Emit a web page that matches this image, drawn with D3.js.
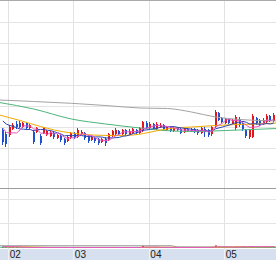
<!DOCTYPE html>
<html><head><meta charset="utf-8">
<script src="https://cdn.jsdelivr.net/npm/d3@7"></script>
<style>html,body{margin:0;padding:0;background:#fff;overflow:hidden}svg{display:block}</style>
</head><body>
<svg id="chart" width="276" height="260"></svg>
<script>
// ---- data ----
const monthLabels = ["02","03","04","05"];
const monthStartIdx = [2,21,43,65];

const openP = [17.0,16.6,16.5,17.1,17.6,17.7,17.3,17.7,17.2,16.8,
16.8,16.4,16.7,16.5,16.4,16.7,16.2,16.4,16.1,15.9,
16.2,16.7,16.3,16.6,16.7,16.4,16.0,16.2,16.1,15.8,
16.1,16.0,16.4,16.6,16.9,16.6,17.0,16.6,16.7,17.0,
16.7,16.9,17.7,17.2,17.6,17.1,17.3,17.5,17.0,17.3,
16.9,17.2,17.1,16.8,17.1,16.9,17.1,17.0,16.7,17.1,
17.0,16.6,17.3,18.7,18.2,17.7,18.1,17.7,17.2,18.1,
17.7,17.0,16.3,16.3,18.2,18.0,17.6,17.8,18.4,17.9];
const closeP = [15.8,15.6,17.3,17.5,17.3,17.3,17.7,17.2,17.5,15.8,
17.2,15.7,17.2,16.9,16.8,16.3,16.5,16.0,15.7,16.3,
16.7,16.3,17.0,16.8,16.2,15.9,16.3,15.9,15.7,16.1,
15.7,16.6,16.9,17.0,16.6,17.0,16.6,16.9,17.1,16.7,
17.2,17.8,17.2,17.6,17.2,17.6,17.5,17.1,17.3,16.9,
17.2,17.0,16.7,17.1,16.9,17.1,16.8,16.7,17.2,16.8,
16.5,17.3,18.8,18.0,17.8,18.1,17.7,18.0,18.3,17.5,
17.1,16.4,17.0,18.4,17.7,17.6,18.0,18.4,17.9,18.5];
const highP = [17.2,16.8,17.5,17.7,17.9,17.9,17.8,17.8,17.6,17.0,
17.3,16.6,17.3,17.0,16.9,16.8,16.6,16.5,16.2,16.4,
16.8,16.8,17.2,17.0,16.8,16.5,16.4,16.3,16.2,16.2,
16.3,16.7,17.0,17.2,17.0,17.1,17.1,17.1,17.2,17.1,
17.3,17.9,17.9,17.8,17.7,17.8,17.7,17.6,17.4,17.4,
17.3,17.3,17.2,17.2,17.2,17.2,17.2,17.1,17.3,17.3,
17.1,17.4,19.0,18.8,18.3,18.2,18.2,18.1,18.5,18.3,
17.9,17.1,17.1,18.6,18.3,18.1,18.2,18.6,18.5,18.7];
const lowP = [15.5,15.3,16.3,17.0,17.1,17.2,17.2,17.0,17.1,15.6,
16.7,15.5,16.6,16.4,16.3,16.1,16.1,15.8,15.5,15.8,
16.1,16.1,16.2,16.5,16.0,15.7,15.9,15.7,15.5,15.7,
15.4,15.9,16.3,16.5,16.5,16.5,16.4,16.5,16.6,16.6,
16.6,16.8,17.1,17.1,17.1,17.0,17.2,17.0,16.9,16.8,
16.8,16.9,16.6,16.7,16.8,16.8,16.7,16.5,16.6,16.3,
16.3,16.4,17.2,17.9,17.7,17.6,17.6,17.6,17.0,17.3,
16.9,16.2,16.1,16.2,17.5,17.4,17.5,17.7,17.8,17.8];
// closes of the days just before the visible window (for MA5 / MA10)
const preClose = [18.7,18.6,18.5,18.6,18.6,17.8,17.6,17.4,17.4];

// longer moving averages (index, value)
const ma20Idx = [-1,5,11,15,20,26,32,38,41,46,50,55,62,68,74,80];
const ma20Val = [18.5,17.95,17.35,17.0,16.7,16.5,16.45,16.5,16.65,17.0,17.2,17.3,17.45,17.55,17.6,17.7];
const ma60Idx = [-1,9,20,30,40,47,56,65,80];
const ma60Val = [19.75,19.1,18.1,17.6,17.2,16.95,16.85,16.95,17.15];
const ma120Idx = [-1,9,20,30,40,48,55,62,69,80];
const ma120Val = [20.0,19.85,19.67,19.45,19.2,19.15,18.8,18.3,18.05,17.9];

const vol = [14,16,12,11,10,6,5,6,5,7,
5,6,5,5,6,5,6,5,6,5,
5,6,5,5,6,6,5,5,6,5,
6,5,6,5,5,6,5,5,6,5,
6,22,7,6,6,7,6,6,5,6,
6,5,6,6,5,6,6,7,6,7,
6,7,26,9,8,9,8,9,14,12,
13,12,14,16,12,13,12,14,13,15];
const preVol = [10,11,12,10,9,11,12,13,12];
const volLongIdx = [-1,49,51,58,80];
const volLongVal = [24,24,11,10,10];
const volMidIdx = [-1,30,80];
const volMidVal = [8,7,7];

// ---- drawing ----
const W = 276, H = 260;
const svg = d3.select("#chart");
const n = openP.length;
const step = 3.43, x0 = 2.855;
const x = d3.scaleLinear().domain([0, n - 1]).range([x0, x0 + (n - 1) * step]);
const y = d3.scaleLinear().domain([15, 20]).range([150, 100]);
const yv = d3.scaleLinear().domain([0, 500]).range([248, 199]);

const mainTop = 1, mainBot = 188, volTop = 189, volBot = 249;
svg.append("rect").attr("width", W).attr("height", H).attr("fill", "#fff");

// clips
const defs = svg.append("defs");
defs.append("clipPath").attr("id", "cMain").append("rect").attr("x", 0).attr("y", mainTop).attr("width", W).attr("height", mainBot - mainTop);
defs.append("clipPath").attr("id", "cVol").append("rect").attr("x", 0).attr("y", volTop).attr("width", W).attr("height", volBot - volTop);

// horizontal grid (panel divisions)
const gridMain = d3.range(8).map(k => 22 + 21 * k);
const gridVol = [199, 223];
svg.append("g").selectAll("line").data(gridMain.concat(gridVol)).join("line")
  .attr("x1", 0).attr("x2", W).attr("y1", d => d + 0.5).attr("y2", d => d + 0.5)
  .attr("stroke", "#e4e4e4").attr("stroke-width", 1);

// vertical month grid
const bounds = monthStartIdx.map(i => Math.round(x(i - 0.5)) + 0.5);
svg.append("g").selectAll("line").data(bounds).join("line")
  .attr("x1", d => d).attr("x2", d => d).attr("y1", 1).attr("y2", H)
  .attr("stroke", "#e2e2e2").attr("stroke-width", 1);

// borders
svg.append("line").attr("x1", 0).attr("x2", W).attr("y1", 0.5).attr("y2", 0.5).attr("stroke", "#aaaaaa");
svg.append("line").attr("x1", 0).attr("x2", W).attr("y1", 188.5).attr("y2", 188.5).attr("stroke", "#9c9c9c");

// candles
const UP = "#e8141c", DOWN = "#1e50d2";
const candles = d3.range(n).map(i => ({i, o: openP[i], c: closeP[i], h: highP[i], l: lowP[i]}));
const gC = svg.append("g").attr("clip-path", "url(#cMain)");
gC.selectAll("line").data(candles).join("line")
  .attr("x1", d => Math.round(x(d.i)) - 0.5).attr("x2", d => Math.round(x(d.i)) - 0.5)
  .attr("y1", d => y(d.h)).attr("y2", d => y(d.l))
  .attr("stroke", d => d.c >= d.o ? UP : DOWN).attr("stroke-width", 1);
gC.selectAll("rect").data(candles).join("rect")
  .attr("x", d => Math.round(x(d.i)) - 1).attr("width", 2)
  .attr("y", d => y(Math.max(d.o, d.c)))
  .attr("height", d => Math.max(1, Math.abs(y(d.o) - y(d.c))))
  .attr("fill", d => d.c >= d.o ? UP : DOWN);

// moving averages
function sma(arr, pre, p) {
  const all = pre.concat(arr);
  return arr.map((_, i) => {
    const j = i + pre.length;
    if (j - p + 1 < 0) return null;
    return d3.mean(all.slice(j - p + 1, j + 1));
  });
}
const ma5 = sma(closeP, preClose, 5);
const ma10 = sma(closeP, preClose, 10);
const smooth = d3.line().x(d => x(d[0])).y(d => y(d[1])).curve(d3.curveMonotoneX);
const straight = d3.line().defined(d => d[1] != null).x(d => x(d[0])).y(d => y(d[1]));
const gL = svg.append("g").attr("clip-path", "url(#cMain)").attr("fill", "none").attr("stroke-width", 1);
gL.append("path").attr("d", smooth(ma120Idx.map((v, k) => [v, ma120Val[k]]))).attr("stroke", "#a3a3a3");
gL.append("path").attr("d", smooth(ma60Idx.map((v, k) => [v, ma60Val[k]]))).attr("stroke", "#4db57a");
gL.append("path").attr("d", smooth(ma20Idx.map((v, k) => [v, ma20Val[k]]))).attr("stroke", "#f2a900");
gL.append("path").attr("d", straight(ma10.map((v, i) => [i, v]))).attr("stroke", "#2f45b0");
gL.append("path").attr("d", straight(ma5.map((v, i) => [i, v]))).attr("stroke", "#e455c8");

// volume
const gV = svg.append("g").attr("clip-path", "url(#cVol)");
gV.selectAll("rect").data(candles).join("rect")
  .attr("x", d => Math.round(x(d.i)) - 1).attr("width", 2)
  .attr("y", d => yv(vol[d.i])).attr("height", d => yv(0) - yv(vol[d.i]))
  .attr("fill", d => d.c >= d.o ? UP : DOWN);
const vLine = d3.line().defined(d => d[1] != null).x(d => x(d[0])).y(d => yv(d[1]));
const vma5 = sma(vol, preVol, 5), vma10 = sma(vol, preVol, 10);
const gVL = svg.append("g").attr("clip-path", "url(#cVol)").attr("fill", "none").attr("stroke-width", 1);
gVL.append("path").attr("d", vLine(volLongIdx.map((v, k) => [v, volLongVal[k]]))).attr("stroke", "#a3a3a3");
gVL.append("path").attr("d", vLine(volMidIdx.map((v, k) => [v, volMidVal[k]]))).attr("stroke", "#4db57a");
gVL.append("path").attr("d", vLine(vma10.map((v, i) => [i, v]))).attr("stroke", "#f2a900");
gVL.append("path").attr("d", vLine(vma5.map((v, i) => [i, v]))).attr("stroke", "#e455c8");

// bottom axis band
svg.append("rect").attr("x", 0).attr("y", volBot).attr("width", W).attr("height", H - volBot).attr("fill", "#d6e0ee");
svg.append("g").selectAll("line").data(bounds).join("line")
  .attr("x1", d => d).attr("x2", d => d).attr("y1", volBot).attr("y2", H)
  .attr("stroke", "#eef2f8").attr("stroke-width", 1);
const axis = d3.axisBottom(x).tickValues(monthStartIdx.map(i => i - 0.5))
  .tickFormat((d, k) => monthLabels[k]).tickSize(0);
const gA = svg.append("g").attr("transform", `translate(0,${volBot})`).call(axis);
gA.select(".domain").remove();
gA.selectAll("text")
  .attr("text-anchor", "start").attr("dx", 1.2).attr("y", 8.5).attr("dy", 0)
  .attr("fill", "#222")
  .style("font-family", "'Liberation Sans Narrow','Liberation Sans',Arial,sans-serif")
  .style("font-size", "10px");
</script>
</body></html>
